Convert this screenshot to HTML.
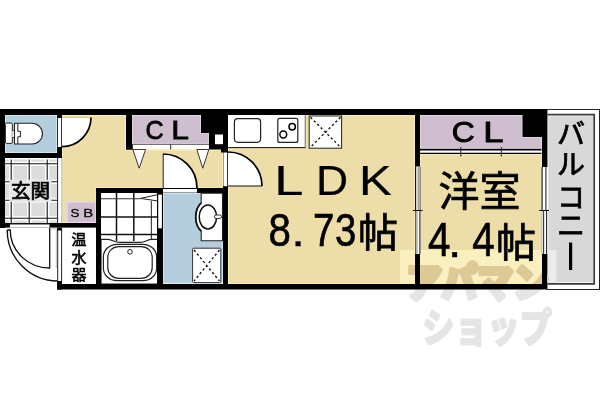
<!DOCTYPE html>
<html lang="ja">
<head>
<meta charset="utf-8">
<title>1LDK floor plan</title>
<style>
html,body{margin:0;padding:0;background:#fff;}
body{width:600px;height:400px;overflow:hidden;font-family:"Liberation Sans",sans-serif;}
svg{display:block;}
svg text{font-family:"Liberation Sans",sans-serif;fill:#000;}
svg text.jp{font-family:"Liberation Sans","Noto Sans CJK JP",sans-serif;}
svg #wm text{font-family:"Liberation Sans","Noto Sans CJK JP",sans-serif;fill:inherit;font-weight:900;}
</style>
</head>
<body>
<svg width="600" height="400" viewBox="0 0 600 400" role="img" aria-labelledby="fp-title fp-desc">
<title id="fp-title">間取り図 1LDK</title>
<desc id="fp-desc">玄関、SB、温水器、CL、LDK 8.73帖、洋室 4.4帖、CL、バルコニー。アパマンショップ</desc>
<rect width="600" height="400" fill="#fff"/>
<path d="M62,115H126V149.5H223V188.5H96.5V223H62Z" fill="#eddea9" stroke="#f9efbc" stroke-width="1.8"/>
<rect x="228" y="115" width="187" height="169" fill="#eddea9" stroke="#f9efbc" stroke-width="1.8"/>
<rect x="420" y="154" width="122" height="130" fill="#eddea9" stroke="#f9efbc" stroke-width="1.8"/>
<rect x="5" y="115" width="52" height="38" fill="#b5cede" stroke="#dbe9f2" stroke-width="1.6"/>
<rect x="5" y="158" width="53" height="65" fill="#dcdcdc"/>
<rect x="67" y="202" width="29" height="20.5" fill="#cebed0" stroke="#e6dbe7" stroke-width="1.4"/>
<path d="M132,115H201V133H209V144.5H132Z" fill="#cebed0" stroke="#e6dbe7" stroke-width="1.4"/>
<path d="M420,115H522.5V137H541.5V148.5H420Z" fill="#cebed0" stroke="#e6dbe7" stroke-width="1.4"/>
<rect x="163" y="193" width="60" height="90.5" fill="#b5cede" stroke="#dbe9f2" stroke-width="1.6"/>
<rect x="101" y="193" width="57" height="91" fill="#fff"/>
<rect x="62" y="228" width="34" height="56" fill="#fff"/>
<rect x="228" y="115" width="77" height="32.5" fill="#fff"/>
<rect x="547" y="109.5" width="52.5" height="180" fill="#fff" stroke="#222" stroke-width="1"/>
<rect x="548.3" y="116.2" width="44.7" height="166" fill="#d8d8d8"/>
<path d="M547.5,114.7H594.2V283.8H547.5" fill="none" stroke="#3a3a3a" stroke-width="1.7"/>
<defs>
<g id="wm" stroke-linejoin="round"><text x="406" y="297" font-size="40" textLength="143" lengthAdjust="spacingAndGlyphs" stroke-width="3.8">アパマン</text><text x="422" y="342" font-size="40" textLength="130" lengthAdjust="spacingAndGlyphs" stroke-width="1.4">ショップ</text></g>
<clipPath id="cb"><path d="M400,250H415V284H400ZM420,250H542V284H420Z"/></clipPath>
<clipPath id="cg"><rect x="547.5" y="250" width="9" height="33.5"/></clipPath>
</defs>
<rect x="400" y="250" width="15" height="34" fill="#faefbf"/>
<rect x="420" y="250" width="122" height="34" fill="#faefbf"/>
<rect x="548" y="250" width="8.5" height="33" fill="#ebebeb"/>
<use href="#wm" fill="#e5e5e5" stroke="#e5e5e5"/>
<use href="#wm" fill="#dcc994" stroke="#dcc994" clip-path="url(#cb)"/>
<use href="#wm" fill="#bdbdbd" stroke="#bdbdbd" clip-path="url(#cg)"/>
<line x1="11.2" y1="158" x2="11.2" y2="223" stroke="#fff" stroke-width="4.2"/>
<line x1="29.2" y1="158" x2="29.2" y2="223" stroke="#fff" stroke-width="4.2"/>
<line x1="47.2" y1="158" x2="47.2" y2="223" stroke="#fff" stroke-width="4.2"/>
<line x1="5" y1="163.8" x2="58" y2="163.8" stroke="#fff" stroke-width="4.2"/>
<line x1="5" y1="181.8" x2="58" y2="181.8" stroke="#fff" stroke-width="4.2"/>
<line x1="5" y1="200.3" x2="58" y2="200.3" stroke="#fff" stroke-width="4.2"/>
<line x1="5" y1="218.3" x2="58" y2="218.3" stroke="#fff" stroke-width="4.2"/>
<line x1="11.2" y1="158" x2="11.2" y2="223" stroke="#111" stroke-width="1.1"/>
<line x1="29.2" y1="158" x2="29.2" y2="223" stroke="#111" stroke-width="1.1"/>
<line x1="47.2" y1="158" x2="47.2" y2="223" stroke="#111" stroke-width="1.1"/>
<line x1="5" y1="163.8" x2="58" y2="163.8" stroke="#111" stroke-width="1.1"/>
<line x1="5" y1="181.8" x2="58" y2="181.8" stroke="#111" stroke-width="1.1"/>
<line x1="5" y1="200.3" x2="58" y2="200.3" stroke="#111" stroke-width="1.1"/>
<line x1="5" y1="218.3" x2="58" y2="218.3" stroke="#111" stroke-width="1.1"/>
<rect x="5" y="158" width="53" height="1.5" fill="#fff"/>
<rect x="58" y="158" width="4" height="70" fill="#fff"/>
<line x1="57.6" y1="158" x2="57.6" y2="223" stroke="#222" stroke-width="1"/>
<line x1="61.8" y1="158" x2="61.8" y2="228" stroke="#999" stroke-width="0.8"/>
<line x1="116.5" y1="193" x2="116.5" y2="241" stroke="#111" stroke-width="1.5"/>
<line x1="133.8" y1="193" x2="133.8" y2="241" stroke="#111" stroke-width="1.5"/>
<line x1="151.4" y1="201" x2="151.4" y2="239" stroke="#444" stroke-width="1.2"/>
<line x1="101" y1="198.7" x2="140.5" y2="198.7" stroke="#333" stroke-width="1.1"/>
<line x1="101" y1="216.95" x2="158" y2="216.95" stroke="#111" stroke-width="1.5"/>
<line x1="101" y1="234.6" x2="158" y2="234.6" stroke="#111" stroke-width="1.5"/>
<path d="M101,239.3H107C112,239.3 114,242.3 120,242.3H140C146,242.3 147,239.3 152,239.3H158V284H101Z" fill="#fff" stroke="#222" stroke-width="1.2"/>
<rect x="103.4" y="244.3" width="53.2" height="36.4" rx="13.5" ry="12.5" fill="#fff" stroke="#222" stroke-width="1.2"/>
<rect x="107.8" y="246.6" width="44.4" height="31.7" rx="11" ry="10.5" fill="#fff" stroke="#222" stroke-width="1.2"/>
<circle cx="130" cy="251.8" r="2.3" fill="#fff" stroke="#222" stroke-width="1"/>
<path d="M158,194.6L140.5,198.4L158,201Z" fill="#fff" stroke="#222" stroke-width="1"/>
<rect x="0" y="109" width="547" height="6" fill="#000"/>
<rect x="0" y="109" width="5" height="119" fill="#000"/>
<rect x="0" y="153" width="62" height="5" fill="#000"/>
<rect x="57" y="115" width="5" height="43" fill="#000"/>
<rect x="0" y="223" width="101" height="4.6" fill="#000"/>
<rect x="96" y="188" width="5" height="101" fill="#000"/>
<rect x="96" y="188" width="132" height="5" fill="#000"/>
<rect x="157" y="193" width="6" height="96" fill="#000"/>
<rect x="223" y="150" width="5" height="139" fill="#000"/>
<rect x="57" y="284" width="490" height="5.5" fill="#000"/>
<rect x="57" y="281" width="5" height="8.5" fill="#000"/>
<rect x="126" y="115" width="6" height="34.5" fill="#000"/>
<rect x="126" y="144" width="7" height="5.5" fill="#000"/>
<path d="M201,115H228V152.5H221V149.5H209V133H201Z" fill="#000" stroke="none" stroke-width="0"/>
<rect x="215" y="134.5" width="8" height="9.7" fill="#fff"/>
<rect x="415" y="115" width="5" height="174" fill="#000"/>
<path d="M522.5,115H547V289H542V137H522.5Z" fill="#000" stroke="none" stroke-width="0"/>
<path d="M62,117.6H91A29,29 0 0 1 62,146.6Z" fill="#fff" stroke="none" stroke-width="0"/>
<line x1="62" y1="117.6" x2="91" y2="117.6" stroke="#b9b08a" stroke-width="0.7"/>
<path d="M91,117.6A29,29 0 0 1 62,146.6" fill="none" stroke="#000" stroke-width="1.7"/>
<rect x="57.8" y="118" width="3.4" height="29" fill="#fff"/>
<rect x="10" y="224.2" width="39.5" height="3.4" fill="#fff"/>
<line x1="10" y1="224" x2="49.5" y2="224" stroke="#333" stroke-width="0.8"/>
<path d="M7.2,230H10.2A39.5,38 0 0 0 49.7,268" fill="none" stroke="#111" stroke-width="1.35"/>
<path d="M7.2,230A50.5,51 0 0 0 57.7,281" fill="none" stroke="#111" stroke-width="1.35"/>
<path d="M49.7,228V268.4" fill="none" stroke="#111" stroke-width="1.3"/>
<path d="M57.7,228V281M61.6,228V281" fill="none" stroke="#222" stroke-width="1"/>
<rect x="57" y="227.6" width="4.6" height="2.9" fill="#000"/>
<path d="M50.3,229H56.3V268" fill="none" stroke="#999" stroke-width="0.6"/>
<path d="M163,188V154A34,34 0 0 1 197,188Z" fill="#fff" stroke="none" stroke-width="0"/>
<line x1="163.2" y1="154" x2="163.2" y2="188" stroke="#222" stroke-width="1"/>
<path d="M163,154A34,34 0 0 1 197,188" fill="none" stroke="#000" stroke-width="1.7"/>
<rect x="163" y="189" width="34" height="3.6" fill="#fff"/>
<rect x="158.2" y="194.6" width="3.7" height="33.7" fill="#fff"/>
<path d="M228,186V152A34,34 0 0 1 262,186Z" fill="#fff" stroke="none" stroke-width="0"/>
<line x1="228" y1="186" x2="262" y2="186" stroke="#111" stroke-width="1.1"/>
<path d="M228,152A34,34 0 0 1 262,186" fill="none" stroke="#000" stroke-width="1.7"/>
<rect x="223.4" y="152.5" width="3.8" height="33.7" fill="#fff"/>
<rect x="132.8" y="145" width="75.8" height="3.8" fill="#fff"/>
<line x1="132" y1="144.5" x2="209" y2="144.5" stroke="#555" stroke-width="0.8"/>
<line x1="170.7" y1="144.5" x2="170.7" y2="149.3" stroke="#222" stroke-width="1"/>
<path d="M132.8,149.5H145.6L139.2,168.2Z" fill="#fff" stroke="#222" stroke-width="0.9"/>
<path d="M196.8,149.5H208.8L202.8,168.2Z" fill="#fff" stroke="#222" stroke-width="0.9"/>
<rect x="420" y="148.5" width="121.5" height="5.5" fill="#fff"/>
<line x1="420" y1="149.6" x2="541.5" y2="149.6" stroke="#000" stroke-width="1.9"/>
<line x1="420" y1="153.4" x2="541.5" y2="153.4" stroke="#000" stroke-width="1.2"/>
<line x1="460.8" y1="147" x2="460.8" y2="156.5" stroke="#222" stroke-width="1"/>
<line x1="501.3" y1="147" x2="501.3" y2="156.5" stroke="#222" stroke-width="1"/>
<rect x="415.2" y="166.5" width="5.2" height="87.5" fill="#fff"/>
<line x1="415.6" y1="166.5" x2="415.6" y2="210.5" stroke="#111" stroke-width="1.2"/>
<line x1="418.3" y1="166.5" x2="418.3" y2="210.5" stroke="#999" stroke-width="1.3"/>
<line x1="420.1" y1="166.5" x2="420.1" y2="210.5" stroke="#333" stroke-width="0.9"/>
<line x1="415.6" y1="210.5" x2="415.6" y2="254" stroke="#555" stroke-width="1"/>
<line x1="416.9" y1="210.5" x2="416.9" y2="254" stroke="#999" stroke-width="1.2"/>
<line x1="419.9" y1="210.5" x2="419.9" y2="254" stroke="#222" stroke-width="1.1"/>
<line x1="413" y1="210.5" x2="422.6" y2="210.5" stroke="#111" stroke-width="1"/>
<rect x="541.6" y="167" width="6.4" height="87" fill="#fff"/>
<line x1="542.1" y1="167" x2="542.1" y2="210.5" stroke="#222" stroke-width="1.2"/>
<line x1="545.9" y1="167" x2="545.9" y2="210.5" stroke="#222" stroke-width="1.1"/>
<line x1="541.9" y1="210.5" x2="541.9" y2="254" stroke="#999" stroke-width="0.8"/>
<line x1="543.6" y1="210.5" x2="543.6" y2="254" stroke="#333" stroke-width="1.1"/>
<line x1="546.6" y1="210.5" x2="546.6" y2="254" stroke="#222" stroke-width="1.1"/>
<line x1="539.2" y1="210.5" x2="549" y2="210.5" stroke="#111" stroke-width="1"/>
<line x1="228" y1="147.6" x2="305.5" y2="147.6" stroke="#111" stroke-width="1"/>
<line x1="305.2" y1="115" x2="305.2" y2="148" stroke="#555" stroke-width="0.8"/>
<rect x="234.4" y="118.7" width="26.2" height="23.6" rx="3.5" fill="#fff" stroke="#222" stroke-width="1.2"/>
<rect x="277.8" y="118.4" width="20" height="24" rx="2" fill="#fff" stroke="#222" stroke-width="1.2"/>
<circle cx="292.2" cy="126.8" r="3.2" fill="#fff" stroke="#000" stroke-width="1.5"/>
<circle cx="283.3" cy="134.5" r="3.4" fill="#fff" stroke="#000" stroke-width="1.5"/>
<rect x="309.2" y="116" width="32.4" height="32.2" fill="#fff" stroke="#222" stroke-width="1"/>
<path d="M310.5,117.3L340.5,147.2M340.5,117.3L310.5,147.2" fill="none" stroke="#111" stroke-width="1.35" stroke-dasharray="2.3 2.5"/>
<rect x="192.6" y="248.2" width="28.2" height="34.4" rx="1" fill="#fff" stroke="#333" stroke-width="1"/>
<path d="M194,250L219.5,281M219.5,250L194,281" fill="none" stroke="#111" stroke-width="1.35" stroke-dasharray="2.3 2.5"/>
<path d="M222.5,193.2H201.2V202.8A12.2,17 0 0 0 201.2,231.2V240.8H222.5Z" fill="#fff" stroke="#222" stroke-width="1.1"/>
<path d="M201.2,202.8A12.2,17 0 0 0 201.2,231.2" fill="none" stroke="#111" stroke-width="1.7"/>
<ellipse cx="207.9" cy="217" rx="8.7" ry="12" fill="#fff" stroke="#111" stroke-width="1.5"/>
<rect x="214.3" y="215" width="7.2" height="3.5" rx="1.7" fill="#fff" stroke="#222" stroke-width="0.9"/>
<rect x="5.4" y="123" width="6.9" height="20.4" rx="1.2" fill="#fff" stroke="#222" stroke-width="1"/>
<rect x="12.3" y="130.7" width="2.2" height="6.8" fill="#fff"/>
<line x1="12.3" y1="130.7" x2="14.5" y2="130.7" stroke="#222" stroke-width="0.8"/>
<line x1="12.3" y1="137.5" x2="14.5" y2="137.5" stroke="#222" stroke-width="0.8"/>
<path d="M14.5,123.3H32.1A10.35,10.35 0 0 1 32.1,144H14.5Z" fill="#fff" stroke="#222" stroke-width="1.1"/>
<path d="M17.8,123.3V131.3H20.4V136.8H17.8V144" fill="none" stroke="#222" stroke-width="1"/>
<g opacity="0.999">
<text transform="translate(274.22 195.07) scale(1.231 1)" font-size="42.66" stroke="#000" stroke-width="0.25">L</text>
<text transform="translate(316.08 195.07) scale(1.043 1)" font-size="42.66" stroke="#000" stroke-width="0.25">D</text>
<text transform="translate(358.90 195.07) scale(1.150 1)" font-size="42.66" stroke="#000" stroke-width="0.25">K</text>
<text transform="translate(268.40 246.00) scale(0.877 1)" font-size="45.90" stroke="#000" stroke-width="0.7">8</text>
<text transform="translate(291.24 246.45) scale(1.173 1)" font-size="42.08" stroke="#000" stroke-width="0.3">.</text>
<text transform="translate(312.98 246.15) scale(0.838 1)" font-size="45.93" stroke="#000" stroke-width="0.7">7</text>
<text transform="translate(335.10 246.00) scale(0.832 1)" font-size="45.90" stroke="#000" stroke-width="0.7">3</text>
<text transform="translate(428.03 256.45) scale(0.848 1)" font-size="47.53" stroke="#000" stroke-width="0.7">4</text>
<text transform="translate(447.64 256.65) scale(1.123 1)" font-size="43.95" stroke="#000" stroke-width="0.3">.</text>
<text transform="translate(472.23 256.45) scale(0.848 1)" font-size="47.53" stroke="#000" stroke-width="0.7">4</text>
<text transform="translate(145.52 138.95) scale(0.972 1)" font-size="25.99" stroke="#000" stroke-width="0.8">C</text>
<text transform="translate(171.20 138.90) scale(1.234 1)" font-size="25.73" stroke="#000" stroke-width="0.8">L</text>
<text transform="translate(451.64 142.37) scale(1.091 1)" font-size="29.10" stroke="#000" stroke-width="0.9">C</text>
<text transform="translate(483.25 141.95) scale(1.275 1)" font-size="28.63" stroke="#000" stroke-width="0.9">L</text>
<text transform="translate(70.54 216.54) scale(1.199 1)" font-size="11.16" stroke="#000" stroke-width="0.3">S</text>
<text transform="translate(83.13 216.55) scale(1.344 1)" font-size="11.05" stroke="#000" stroke-width="0.3">B</text>
</g>
<text class="jp" x="358" y="247" font-size="40" stroke="#000" stroke-width="0.8">帖</text>
<text class="jp" x="496" y="257" font-size="40" stroke="#000" stroke-width="0.8">帖</text>
<text class="jp" x="438.5" y="206" font-size="41" textLength="82" lengthAdjust="spacingAndGlyphs" stroke="#000" stroke-width="0.7">洋室</text>
<rect x="9.5" y="179.8" width="42" height="22" fill="#e6e6e6"/>
<text class="jp" x="11" y="198" font-size="19" textLength="39" lengthAdjust="spacingAndGlyphs" stroke="#000" stroke-width="0.75">玄関</text>
<text class="jp" x="71.5" y="245" font-size="15" stroke="#000" stroke-width="0.6">温</text>
<text class="jp" x="71.5" y="262.5" font-size="15" stroke="#000" stroke-width="0.6">水</text>
<text class="jp" x="71.5" y="280" font-size="15" stroke="#000" stroke-width="0.6">器</text>
<text class="jp" x="571" y="144" font-size="28" text-anchor="middle" stroke="#000" stroke-width="0.8">バ</text>
<text class="jp" x="571" y="175" font-size="28" text-anchor="middle" stroke="#000" stroke-width="0.8">ル</text>
<text class="jp" x="571" y="207.5" font-size="28" text-anchor="middle" stroke="#000" stroke-width="0.8">コ</text>
<text class="jp" x="571" y="236" font-size="28" text-anchor="middle" stroke="#000" stroke-width="0.8">ニ</text>
<rect x="569" y="242.5" width="3.2" height="27.5" fill="#000"/>
</svg>
</body>
</html>
